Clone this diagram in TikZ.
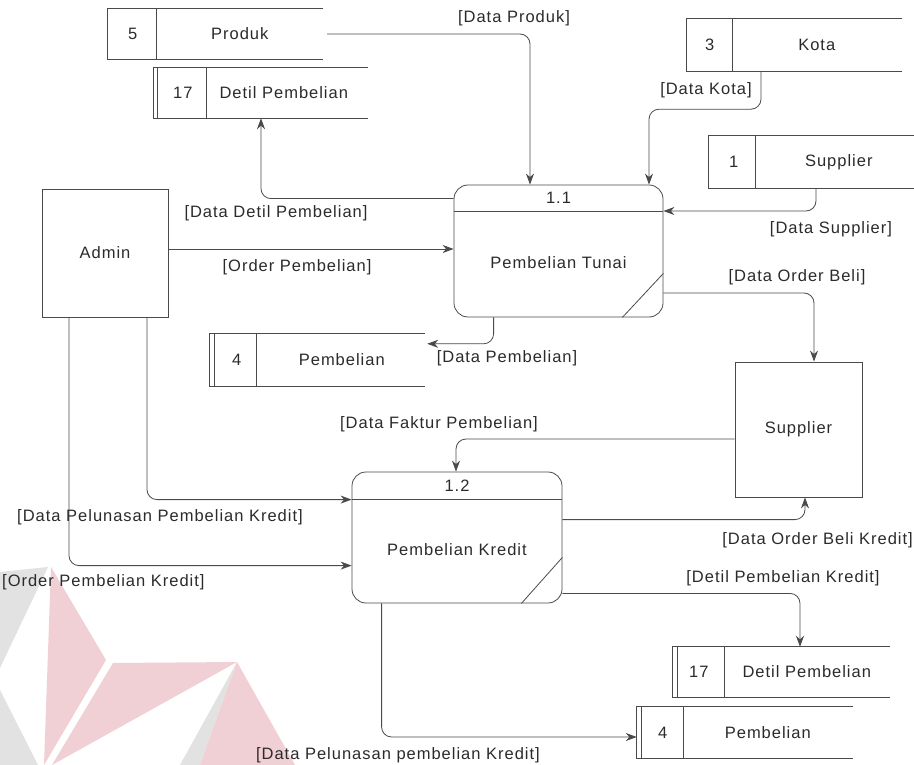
\documentclass[tikz,border=0pt]{standalone}
\usepackage{fontspec}
\setmainfont{Liberation Sans}[LetterSpace=6]
\usetikzlibrary{arrows.meta,calc}

\definecolor{ink}{HTML}{2B2B2B}
\definecolor{edge}{HTML}{4A4A4A}
\definecolor{wmred}{HTML}{F0D0D4}
\definecolor{wmgrey}{HTML}{E2E2E2}

\begin{document}
\begin{tikzpicture}[x=1pt,y=-1pt,
  every node/.style={inner sep=0pt, text=ink, font=\fontsize{16.5}{19}\selectfont},
  line/.style={draw=edge, line width=0.8pt},
  entity/.style={line},
  proc/.style={line, rounded corners=14pt},
  storebox/.style={inner sep=0pt},
  flow/.style={line, rounded corners=10pt,
    -{Stealth[length=11pt,width=8pt,inset=3.5pt]}}
]
\useasboundingbox (0,0) rectangle (914,765);
\fill[white] (0,0) rectangle (914,765);

% faint logo in the lower left corner
\fill[wmgrey] (0,572) -- (48,567) -- (0,668) -- cycle;
\fill[wmred]  (51,567) -- (106,660) -- (44,765) -- cycle;
\fill[wmgrey] (0,690) -- (38,765) -- (0,765) -- cycle;
\fill[wmred]  (113,663) -- (237,662) -- (52,765) -- cycle;
\fill[wmgrey] (237,662) -- (180,765) -- (200,765) -- cycle;
\fill[wmred]  (237,662) -- (200,765) -- (295,765) -- cycle;

% external entities
\node[entity, minimum width=126pt, minimum height=128pt] (admin) at (105,253) {Admin};
\node[entity, minimum width=127pt, minimum height=135pt] (sup) at (798.5,429.5) {Supplier};

% processes
\node[proc, minimum width=209pt, minimum height=132pt] (p11) at (558.5,251) {};
\draw[line] ([yshift=-27pt]p11.north west) -- ([yshift=-27pt]p11.north east);
\draw[line] ([xshift=-41pt]p11.south east) -- ([yshift=44pt]p11.south east);
\node (p11id) at ($(p11.north)+(0,13.5)$) {1.1};
\node (p11name) at ($(p11.center)+(0,12)$) {Pembelian Tunai};

\node[proc, minimum width=210pt, minimum height=131pt] (p12) at (457,537.5) {};
\draw[line] ([yshift=-28pt]p12.north west) -- ([yshift=-28pt]p12.north east);
\draw[line] ([xshift=-41pt]p12.south east) -- ([yshift=46pt]p12.south east);
\node (p12id) at ($(p12.north)+(0,14)$) {1.2};
\node (p12name) at ($(p12.center)+(0,12.5)$) {Pembelian Kredit};

% data stores
\node[storebox, minimum width=215pt, minimum height=50pt] (s5) at (215.5,34) {};
\draw[line] (s5.north east) -- (s5.north west) -- (s5.south west) -- (s5.south east);
\draw[line] ([xshift=49pt]s5.north west) -- ([xshift=49pt]s5.south west);
\node (s5n) at ($(s5.west)+(25,0)$) {5};
\node (s5t) at ($(s5.west)+(132,0)$) {Produk};

\node[storebox, minimum width=214pt, minimum height=50pt] (s17a) at (261,93) {};
\draw[line] (s17a.north east) -- (s17a.north west) -- (s17a.south west) -- (s17a.south east);
\draw[line] ([xshift=4pt]s17a.north west) -- ([xshift=4pt]s17a.south west);
\draw[line] ([xshift=53pt]s17a.north west) -- ([xshift=53pt]s17a.south west);
\node (s17an) at ($(s17a.west)+(29,0)$) {17};
\node (s17at) at ($(s17a.west)+(130,0)$) {Detil Pembelian};

\node[storebox, minimum width=215pt, minimum height=52pt] (s4a) at (317.5,360) {};
\draw[line] (s4a.north east) -- (s4a.north west) -- (s4a.south west) -- (s4a.south east);
\draw[line] ([xshift=5pt]s4a.north west) -- ([xshift=5pt]s4a.south west);
\draw[line] ([xshift=47pt]s4a.north west) -- ([xshift=47pt]s4a.south west);
\node (s4an) at ($(s4a.west)+(27,0)$) {4};
\node (s4at) at ($(s4a.west)+(132,0)$) {Pembelian};

\node[storebox, minimum width=215pt, minimum height=52pt] (s3) at (794.5,45) {};
\draw[line] (s3.north east) -- (s3.north west) -- (s3.south west) -- (s3.south east);
\draw[line] ([xshift=46pt]s3.north west) -- ([xshift=46pt]s3.south west);
\node (s3n) at ($(s3.west)+(23,0)$) {3};
\node (s3t) at ($(s3.west)+(130,0)$) {Kota};

\node[storebox, minimum width=213pt, minimum height=52pt] (s1) at (815.5,162) {};
\draw[line] (s1.north east) -- (s1.north west) -- (s1.south west) -- (s1.south east);
\draw[line] ([xshift=47pt]s1.north west) -- ([xshift=47pt]s1.south west);
\node (s1n) at ($(s1.west)+(25,0)$) {1};
\node (s1t) at ($(s1.west)+(130,0)$) {Supplier};

\node[storebox, minimum width=217pt, minimum height=50pt] (s17b) at (781.5,672) {};
\draw[line] (s17b.north east) -- (s17b.north west) -- (s17b.south west) -- (s17b.south east);
\draw[line] ([xshift=5pt]s17b.north west) -- ([xshift=5pt]s17b.south west);
\draw[line] ([xshift=52pt]s17b.north west) -- ([xshift=52pt]s17b.south west);
\node (s17bn) at ($(s17b.west)+(26,0)$) {17};
\node (s17bt) at ($(s17b.west)+(134,0)$) {Detil Pembelian};

\node[storebox, minimum width=216pt, minimum height=51pt] (s4b) at (745,732.5) {};
\draw[line] (s4b.north east) -- (s4b.north west) -- (s4b.south west) -- (s4b.south east);
\draw[line] ([xshift=5pt]s4b.north west) -- ([xshift=5pt]s4b.south west);
\draw[line] ([xshift=47pt]s4b.north west) -- ([xshift=47pt]s4b.south west);
\node (s4bn) at ($(s4b.west)+(26,0)$) {4};
\node (s4bt) at ($(s4b.west)+(131,0)$) {Pembelian};

% data flows
\draw[flow] ([xshift=4pt]s5.east) -| ([xshift=-28.5pt]p11.north);
\draw[flow] ([yshift=-14pt]p11.north west) -| (s17a.south);
\draw[flow] ([yshift=4pt]admin.east) -- ([yshift=4pt]admin.east -| p11.west);
\draw[flow] ([xshift=-33.5pt]s3.south) -- ++(0,38) -| ([xshift=90.5pt]p11.north);
\draw[flow] ([xshift=0.5pt]s1.south) |- ([yshift=40pt]p11.east);
\draw[flow] ([yshift=-42pt]p11.east) -| ([xshift=15.5pt]sup.north);
\draw[flow] ([xshift=40pt]p11.south west) |- ([shift={(2pt,-10pt)}]s4a.north east);
\draw[flow] ([yshift=-9.5pt]sup.west) -| ([xshift=-1pt]p12.north);
\draw[flow] ([xshift=42pt]admin.south) |- ([yshift=-28pt]p12.north west);
\draw[flow] ([xshift=-36pt]admin.south) |- ([yshift=-94pt]p12.north west);
\draw[flow] ([yshift=-48pt]p12.north east) -| ([xshift=6.5pt]sup.south);
\draw[flow] ([yshift=10pt]p12.south east) -| ([xshift=18.5pt]s17b.north);
\draw[flow] ([xshift=30pt]p12.south west) |- ([yshift=-4.5pt]s4b.west);

% flow labels
\node (l1) at (514,18) {[Data Produk]};
\node (l2) at (706,90) {[Data Kota]};
\node (l3) at (831,229) {[Data Supplier]};
\node (l4) at (276,213) {[Data Detil Pembelian]};
\node (l5) at (297,267) {[Order Pembelian]};
\node (l6) at (797,277) {[Data Order Beli]};
\node (l7) at (507,358) {[Data Pembelian]};
\node (l8) at (439,424) {[Data Faktur Pembelian]};
\node (l9) at (160,517) {[Data Pelunasan Pembelian Kredit]};
\node[anchor=west] (l10) at (2,582) {[Order Pembelian Kredit]};
\node[anchor=east] (l11) at (913,540) {[Data Order Beli Kredit]};
\node (l12) at (783,578) {[Detil Pembelian Kredit]};
\node[anchor=east] (l13) at (540,755) {[Data Pelunasan pembelian Kredit]};
\end{tikzpicture}
\end{document}
